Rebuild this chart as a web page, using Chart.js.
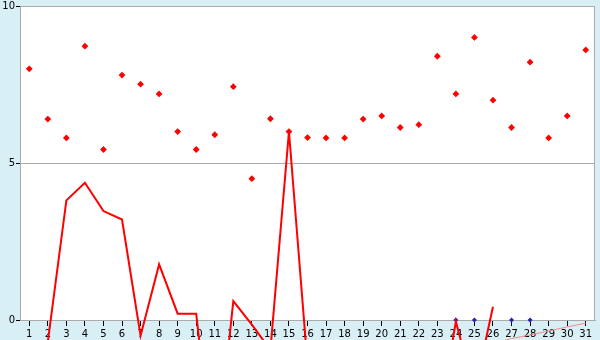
<!DOCTYPE html>
<html>
<head>
<meta charset="utf-8">
<script src="https://cdn.jsdelivr.net/npm/chart.js@4"></script>
<style>
  html, body { margin: 0; padding: 0; background: #d9eff6; }
  #wrap { width: 600px; height: 340px; }
</style>
</head>
<body>
<div id="wrap"><canvas id="chart" width="600" height="340"></canvas></div>
<script>
const days = ['1','2','3','4','5','6','7','8','9','10','11','12','13','14','15','16',
              '17','18','19','20','21','22','23','24','25','26','27','28','29','30','31'];

// red diamonds
const dotValues = [8.0, 6.4, 5.8, 8.72, 5.43, 7.8, 7.51, 7.2, 6.0, 5.43, 5.9, 7.43, 4.5, 6.41, 6.0, 5.81,
                   5.8, 5.8, 6.4, 6.5, 6.13, 6.22, 8.4, 7.2, 9.0, 7.0, 6.13, 8.21, 5.8, 6.5, 8.6];

// red line (null where it is not seen)
const lineValues = [null, -0.7, 3.81, 4.37, 3.47, 3.2, -0.5, 1.77, 0.2, 0.2, -5, 0.6, -0.15, -0.95, 6.0, -1.4,
                    null, null, null, null, null, null, -3.5, -0.05, -2.3, 0.42, null, null, null, null, null];

// thin pink line at the end
const pinkValues = [null, null, null, null, null, null, null, null, null, null, null, null, null, null, null, null,
                    null, null, null, null, null, null, null, null, null, -0.75, -0.59, -0.48, -0.35, -0.22, -0.1];

// blue markers on the zero line
const blueValues = [null, null, null, null, null, null, null, null, null, null, null, null, null, null, null, null,
                    null, null, null, null, null, null, null, 0, 0, null, 0, 0, null, null, null];

const yTicks = [0, 5, 10];

const frame = {
  id: 'frame',
  beforeDraw(chart) {
    const c = chart.ctx, a = chart.chartArea;
    c.save();
    c.fillStyle = '#d9eff6';
    c.fillRect(0, 0, chart.width, chart.height);
    c.fillStyle = '#ffffff';
    c.fillRect(a.left, a.top, a.right - a.left, a.bottom - a.top);
    c.restore();
  },
  beforeDatasetsDraw(chart) {
    const c = chart.ctx, a = chart.chartArea;
    c.save();
    c.strokeStyle = '#aaaaaa';
    c.lineWidth = 1;
    c.strokeRect(a.left + 0.5, a.top + 0.5, a.right - a.left - 1, a.bottom - a.top);
    c.restore();
  }
};

const font = { family: 'DejaVu Sans', size: 10, lineHeight: 1 };

new Chart(document.getElementById('chart'), {
  type: 'line',
  data: {
    labels: days,
    datasets: [
      {
        data: pinkValues,
        borderColor: '#f58a8a',
        borderWidth: 1,
        pointRadius: 0,
        tension: 0,
        clip: false
      },
      {
        data: lineValues,
        borderColor: '#ff0000',
        borderWidth: 2,
        pointRadius: 0,
        tension: 0,
        clip: false
      },
      {
        data: blueValues,
        showLine: false,
        pointStyle: 'rectRot',
        pointRadius: 2.5,
        pointBorderWidth: 0,
        pointBackgroundColor: '#2323b8',
        clip: false
      },
      {
        data: dotValues,
        showLine: false,
        pointStyle: 'rectRot',
        pointRadius: 3.4,
        pointBorderWidth: 0,
        pointBackgroundColor: '#ff0000',
        clip: false
      }
    ]
  },
  options: {
    responsive: false,
    animation: false,
    devicePixelRatio: 1,
    layout: { padding: { top: 4, right: 5, left: 0, bottom: 0 } },
    plugins: {
      legend: { display: false },
      tooltip: { enabled: false }
    },
    scales: {
      x: {
        offset: true,
        grid: { offset: false, drawOnChartArea: false, tickLength: 6, tickColor: '#000000' },
        border: { color: '#aaaaaa' },
        ticks: { color: '#000000', font: font, padding: 3, maxRotation: 0, autoSkip: false },
        afterFit(scale) { scale.height = 20; }
      },
      y: {
        min: 0,
        max: 10,
        afterBuildTicks(scale) { scale.ticks = yTicks.map(v => ({ value: v })); },
        grid: { color: '#aaaaaa', tickLength: 4, tickColor: '#000000' },
        border: { color: '#aaaaaa' },
        ticks: { color: '#000000', font: font, padding: 1 },
        afterFit(scale) { scale.width = 20; }
      }
    }
  },
  plugins: [frame]
});
</script>
</body>
</html>
